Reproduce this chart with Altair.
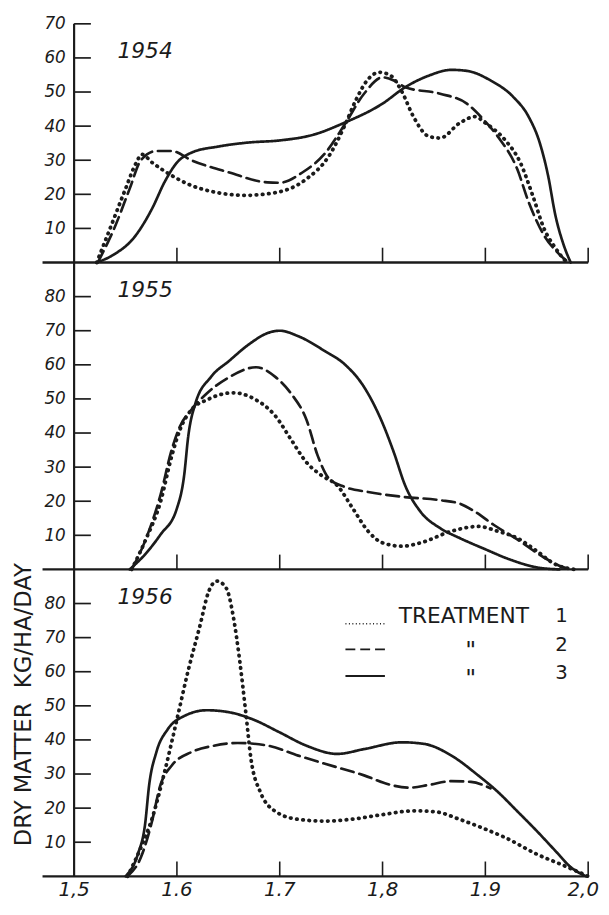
import altair as alt
import pandas as pd

INK = "#1b1b1b"
FONT = "DejaVu Sans"

# ---------------- data ----------------
YEARS = ["1954", "1955", "1956"]
TREATMENTS = ["1", "2", "3"]

# 1954
X54_T1 = [1.522, 1.535, 1.550, 1.560, 1.566, 1.576, 1.595, 1.614, 1.636, 1.666, 1.696, 1.726, 1.748, 1.763,
          1.774, 1.785, 1.797, 1.808, 1.819, 1.830, 1.845, 1.856, 1.875, 1.890, 1.900, 1.919, 1.934, 1.946,
          1.957, 1.968, 1.979]
Y54_T1 = [0, 10, 21.6, 29, 31.7, 29.3, 25.5, 22.6, 20.7, 19.7, 20.5, 24.5, 31.3, 40, 47.6, 53.4, 55.8, 54.8,
          50, 42.8, 37, 36.5, 40.9, 42.8, 40.9, 36, 29.3, 19.7, 10, 4.3, 0]
X54_T2 = [1.523, 1.539, 1.554, 1.565, 1.580, 1.595, 1.614, 1.651, 1.688, 1.700, 1.722, 1.744, 1.763, 1.782,
          1.800, 1.811, 1.822, 1.856, 1.882, 1.897, 1.912, 1.931, 1.942, 1.957, 1.972, 1.981]
Y54_T2 = [0, 10, 21.6, 30, 32.7, 32.7, 30, 26.4, 23.5, 23.4, 26.4, 32, 40.4, 49.5, 54.3, 53.4, 51.4, 49.5,
          46.6, 42.3, 37, 27.4, 17.8, 8, 2.4, 0]
X54_T3 = [1.522, 1.539, 1.558, 1.576, 1.588, 1.600, 1.614, 1.640, 1.670, 1.700, 1.733, 1.763, 1.800, 1.822,
          1.845, 1.867, 1.882, 1.905, 1.927, 1.942, 1.953, 1.961, 1.968, 1.976, 1.983]
Y54_T3 = [0, 2.4, 7.2, 15.9, 23.6, 29.3, 32.2, 34, 35.2, 35.8, 37.5, 41, 46.6, 51.4, 54.8, 56.5, 56.2, 53.4,
          48.6, 42.8, 35, 25.5, 14, 5.3, 0]

# 1955
X55_T1 = [1.556, 1.569, 1.584, 1.595, 1.603, 1.614, 1.629, 1.655, 1.674, 1.696, 1.711, 1.726, 1.741, 1.756,
          1.771, 1.786, 1.800, 1.819, 1.837, 1.867, 1.893, 1.912, 1.931, 1.950, 1.968, 1.987]
Y55_T1 = [0, 8.3, 19.8, 33.3, 41, 46.8, 49.7, 51.8, 50.2, 44.9, 38.1, 31.4, 27.5, 24.6, 17.9, 11.2, 7.8, 6.8,
          7.8, 11.2, 12.6, 11.2, 9.2, 5.4, 1.5, 0]
X55_T2 = [1.556, 1.569, 1.584, 1.595, 1.603, 1.614, 1.629, 1.651, 1.677, 1.696, 1.711, 1.726, 1.737, 1.748,
          1.763, 1.786, 1.819, 1.856, 1.875, 1.890, 1.908, 1.931, 1.957, 1.976, 1.983]
Y55_T2 = [0, 8.3, 21.8, 35.2, 42, 46.8, 51.6, 56.4, 59.3, 56.4, 51.6, 43.9, 33.3, 26.6, 24.2, 22.7, 21.3,
          20.3, 19.3, 16.9, 13.1, 8.8, 3.5, 0.6, 0]
X55_T3 = [1.554, 1.569, 1.584, 1.600, 1.607, 1.611, 1.618, 1.633, 1.651, 1.670, 1.689, 1.700, 1.718, 1.744,
          1.763, 1.782, 1.800, 1.811, 1.822, 1.837, 1.856, 1.875, 1.900, 1.923, 1.950, 1.972]
Y55_T3 = [0, 4.4, 10.2, 17.9, 27.5, 39, 48.7, 56.4, 61.2, 66, 69.4, 70, 68.4, 64, 60.2, 53.5, 42.9, 34.3,
          24.6, 16.9, 12.1, 9.2, 5.9, 3, 0.6, 0]

# 1956
X56_T1 = [1.552, 1.565, 1.576, 1.588, 1.600, 1.611, 1.622, 1.631, 1.639, 1.648, 1.655, 1.661, 1.667, 1.672,
          1.681, 1.696, 1.718, 1.744, 1.774, 1.800, 1.830, 1.852, 1.875, 1.897, 1.919, 1.950, 1.976, 2.000]
Y56_T1 = [0, 8.5, 17.1, 30.6, 46, 60.4, 73, 83.6, 86.6, 84.5, 75.9, 63.4, 48, 34.5, 24.8, 19, 16.7, 16.2,
          16.9, 18.1, 19.2, 18.9, 16.7, 14.2, 11.4, 6.5, 3.2, 0]
X56_T2 = [1.552, 1.565, 1.575, 1.584, 1.595, 1.614, 1.636, 1.659, 1.689, 1.718, 1.744, 1.782, 1.808, 1.826,
          1.845, 1.867, 1.886, 1.905]
Y56_T2 = [0, 5.6, 15.2, 26.8, 32.5, 36.4, 38.3, 39.1, 38.3, 35.4, 33, 29.6, 26.8, 26, 26.8, 27.9, 27.7, 25.8]
X56_T3 = [1.550, 1.562, 1.569, 1.573, 1.580, 1.591, 1.607, 1.629, 1.651, 1.674, 1.700, 1.726, 1.756, 1.782,
          1.819, 1.841, 1.867, 1.893, 1.912, 1.931, 1.950, 1.968, 1.983, 1.998]
Y56_T3 = [0, 6.5, 15.2, 26.8, 36.4, 43.1, 47, 48.7, 48.1, 46, 42.2, 38.3, 35.9, 37.3, 39.3, 38.8, 35.4, 29.6,
          24.8, 19.1, 13.3, 7.5, 2.7, 0]

X_TICKS = [1.5, 1.6, 1.7, 1.8, 1.9, 2.0]
X_TICK_LABELS = ["1,5", "1.6", "1.7", "1,8", "1.9", "2,0"]
X_INNER_TICKS = [1.6, 1.7, 1.8, 1.9, 2.0]
Y_TICKS = {"1954": [10, 20, 30, 40, 50, 60, 70],
           "1955": [10, 20, 30, 40, 50, 60, 70, 80],
           "1956": [10, 20, 30, 40, 50, 60, 70, 80]}
Y_MAX = {"1954": 70, "1955": 90, "1956": 90}

Y_TITLE = "DRY MATTER\u00a0\u00a0KG/HA/DAY"
LEGEND_WORD = "TREATMENT"
LEGEND_DITTO = ['"', '"']

# ---------------- layout (stacked panels share one vertical scale) ----------------
W, H = 521, 864
BASE = {"1956": 0, "1955": 90, "1954": 180}   # panel baselines in stacked units
TOTAL = 250
PX_PER_UNIT = H / TOTAL
XTICK_LEN = 15 / PX_PER_UNIT

SERIES = {
    "1954": [(X54_T1, Y54_T1), (X54_T2, Y54_T2), (X54_T3, Y54_T3)],
    "1955": [(X55_T1, Y55_T1), (X55_T2, Y55_T2), (X55_T3, Y55_T3)],
    "1956": [(X56_T1, Y56_T1), (X56_T2, Y56_T2), (X56_T3, Y56_T3)],
}
rows = []
for yr, ser in SERIES.items():
    for t, (xs, ys) in zip(TREATMENTS, ser):
        for x, y in zip(xs, ys):
            rows.append({"year": yr, "t": t, "x": x, "value": y, "ys": y + BASE[yr]})
df = pd.DataFrame(rows)

y_tick_pos = [BASE[yr] + v for yr in YEARS for v in Y_TICKS[yr]]
label_expr_y = ("format(datum.value >= %d ? datum.value - %d : datum.value >= %d ? datum.value - %d : "
                "datum.value, 'd')") % (BASE["1954"], BASE["1954"], BASE["1955"], BASE["1955"])

xscale = alt.Scale(domain=[1.5, 2.0], nice=False, zero=False)
yscale = alt.Scale(domain=[0, TOTAL], nice=False, zero=True)
yaxis = alt.Axis(values=y_tick_pos, labelExpr=label_expr_y, ticks=False, grid=False, title=None,
                 domain=False, labelFont=FONT, labelFontStyle="italic",
                 labelFontSize=17, labelColor=INK, labelPadding=9, labelFlush=False, labelOverlap=False)


def X(f):
    return alt.X(f, scale=xscale, axis=None)


def Y(f):
    return alt.Y(f, scale=yscale, axis=yaxis)


DASH = {"1": [0.5, 5.8], "2": [13, 6], "3": [1, 0]}
WIDTH = {"1": 3.8, "2": 2.7, "3": 2.7}

layers = []
for t in ["3", "2", "1"]:
    layers.append(
        alt.Chart(df[df.t == t]).mark_line(interpolate="monotone", color=INK, strokeCap="round",
                                           strokeDash=DASH[t], strokeWidth=WIDTH[t]).encode(
            x=X("x:Q"), y=Y("ys:Q"), detail="year:N", order=alt.Order("x:Q"))
    )

# baselines of each panel
base_df = pd.DataFrame({"year": YEARS, "b": [BASE[y] for y in YEARS],
                        "top": [BASE[y] + Y_MAX[y] for y in YEARS]})
layers.append(alt.Chart(base_df).mark_rule(color=INK, strokeWidth=2.4).encode(
    x=alt.value(-32), x2=alt.value(W), y=Y("b:Q")))

# inward x ticks
xt = pd.DataFrame([{"x": x, "b": BASE[yr]} for yr in YEARS for x in X_INNER_TICKS])
layers.append(alt.Chart(xt).transform_calculate(b2="datum.b + %f" % XTICK_LEN).mark_rule(
    color=INK, strokeWidth=1.6).encode(x=X("x:Q"), y=Y("b:Q"), y2="b2:Q"))
# inward y ticks
yt = pd.DataFrame({"v": y_tick_pos})
layers.append(alt.Chart(yt).mark_rule(color=INK, strokeWidth=1.7).encode(
    x=alt.value(0), x2=alt.value(17), y=Y("v:Q")))
# y axis line
layers.append(alt.Chart(pd.DataFrame({"k": [0]})).mark_rule(color=INK, strokeWidth=2.2).encode(
    x=alt.value(0), y=alt.value(0), y2=alt.value(H)))

# x tick labels (last one nudged left, as in the original)
xl = pd.DataFrame({"x": X_TICKS, "label": X_TICK_LABELS})
layers.append(alt.Chart(xl.iloc[:-1]).mark_text(font=FONT, fontStyle="italic", fontSize=20,
                                                align="center", baseline="top", color=INK, dy=4).encode(
    x=X("x:Q"), y=alt.value(H), text="label:N"))
layers.append(alt.Chart(xl.iloc[-1:]).mark_text(font=FONT, fontStyle="italic", fontSize=20,
                                                align="center", baseline="top", color=INK, dy=4,
                                                dx=-5).encode(
    x=X("x:Q"), y=alt.value(H), text="label:N"))

# year labels
layers.append(alt.Chart(base_df).mark_text(font=FONT, fontStyle="italic", fontSize=22, align="left",
                                           baseline="alphabetic", color=INK, dy=35).encode(
    text="year:N", x=alt.value(44), y=Y("top:Q")))

# vertical title
layers.append(alt.Chart(pd.DataFrame({"label": [Y_TITLE]})).mark_text(
    font=FONT, fontSize=23, angle=270, align="center", baseline="middle", color=INK).encode(
    text="label:N", x=alt.value(-51), y=alt.value(690)))

# manual legend
row_y = [600, 630, 658]
layers.append(alt.Chart(pd.DataFrame({"label": [LEGEND_WORD]})).mark_text(
    font=FONT, fontSize=22, align="left", baseline="middle", color=INK).encode(
    text="label:N", x=alt.value(329), y=alt.value(row_y[0])))
for i, t in enumerate(TREATMENTS):
    layers.append(alt.Chart(pd.DataFrame({"label": [t]})).mark_text(
        font=FONT, fontSize=20, align="center", baseline="middle", color=INK).encode(
        text="label:N", x=alt.value(494), y=alt.value(row_y[i])))
for i, d in enumerate(LEGEND_DITTO):
    layers.append(alt.Chart(pd.DataFrame({"label": [d]})).mark_text(
        font=FONT, fontSize=24, fontStyle="italic", align="center", baseline="middle", color=INK).encode(
        text="label:N", x=alt.value(402), y=alt.value(row_y[i + 1] + 6)))
sample_y = [608, 634, 661]
sample_dash = [[1, 2.5], [10, 5], [1, 0]]
sample_w = [1.5, 2, 2]
for i, t in enumerate(TREATMENTS):
    layers.append(alt.Chart(pd.DataFrame({"t": [t]})).mark_rule(
        color=INK, strokeWidth=sample_w[i], strokeDash=sample_dash[i]).encode(
        x=alt.value(275), x2=alt.value(315), y=alt.value(sample_y[i])))

chart = alt.layer(*layers).properties(
    width=W, height=H,
    padding={"left": 67, "top": 10, "right": 13, "bottom": 21},
    autosize=alt.AutoSizeParams(type="none"),
).configure(background="white", view=alt.ViewConfig(stroke=None))

chart.save("out.html", embed_options={"renderer": "svg", "actions": False})
